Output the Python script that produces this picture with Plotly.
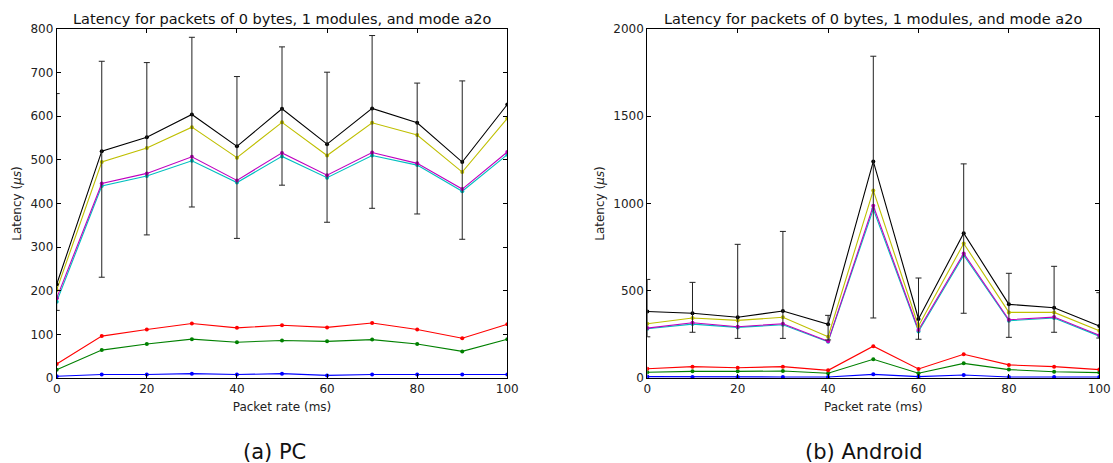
import plotly.graph_objects as go
from plotly.subplots import make_subplots

x_rate = [0, 10, 20, 30, 40, 50, 60, 70, 80, 90, 100]

# (a) PC
pc_black = [215, 520, 552, 604, 531, 617, 536, 618, 585, 495, 627]
pc_yellow = [202, 495, 527, 575, 505, 586, 510, 585, 557, 472, 595]
pc_magenta = [183, 446, 469, 507, 453, 516, 465, 517, 492, 433, 518]
pc_cyan = [175, 440, 463, 498, 448, 508, 459, 510, 488, 428, 512]
pc_red = [32, 96, 111, 125, 115, 121, 116, 126, 111, 91, 123]
pc_green = [19, 64, 78, 89, 82, 86, 84, 88, 78, 61, 89]
pc_blue = [4, 8, 8, 10, 8, 10, 6, 8, 8, 8, 8]
pc_err_x = [0, 10, 20, 30, 40, 50, 60, 70, 80, 90]
pc_err_hi = [652, 726, 723, 781, 691, 759, 701, 785, 676, 681]
pc_err_lo = [155, 231, 328, 392, 320, 442, 357, 389, 376, 318]

# (b) Android
an_black = [381, 371, 348, 384, 308, 1241, 338, 830, 422, 403, 298]
an_yellow = [311, 344, 330, 348, 237, 1075, 298, 771, 376, 376, 271]
an_magenta = [286, 317, 294, 311, 210, 987, 275, 714, 334, 349, 245]
an_cyan = [282, 309, 290, 305, 208, 968, 267, 704, 328, 344, 240]
an_red = [53, 65, 59, 65, 44, 182, 52, 136, 75, 65, 48]
an_green = [33, 38, 38, 40, 27, 107, 27, 84, 48, 36, 31]
an_blue = [8, 6, 6, 6, 6, 21, 8, 17, 6, 6, 6]
an_err_x = [0, 10, 20, 30, 40, 50, 60, 70, 80, 90, 100]
an_err_hi = [565, 548, 766, 840, 359, 1844, 573, 1227, 600, 640, 489]
an_err_lo = [236, 262, 227, 227, 218, 344, 222, 371, 233, 262, 229]

title_text = "Latency for packets of 0 bytes, 1 modules, and mode a2o"
FONT = "DejaVu Sans"

fig = make_subplots(rows=1, cols=2)

def add_panel(col, series, err_x, err_hi, err_lo, black):
    for vals, color in series:
        fig.add_trace(go.Scatter(
            x=x_rate, y=vals, mode="lines+markers",
            line=dict(color=color, width=1.1),
            marker=dict(color=color, size=4, line=dict(width=0)),
            showlegend=False, hoverinfo="skip"), row=1, col=col)
    lookup = dict(zip(x_rate, black))
    ey = [lookup[v] for v in err_x]
    fig.add_trace(go.Scatter(
        x=err_x, y=ey, mode="markers",
        marker=dict(size=1, color="rgba(0,0,0,0)"),
        error_y=dict(type="data", symmetric=False,
                     array=[h - c for h, c in zip(err_hi, ey)],
                     arrayminus=[c - l for l, c in zip(err_lo, ey)],
                     color="#222222", thickness=1, width=3),
        showlegend=False, hoverinfo="skip"), row=1, col=col)

add_panel(1, [(pc_blue, "#0000ff"), (pc_green, "#008000"), (pc_red, "#ff0000"),
              (pc_cyan, "#00bfbf"), (pc_magenta, "#bf00bf"), (pc_yellow, "#bfbf00"),
              (pc_black, "#000000")], pc_err_x, pc_err_hi, pc_err_lo, pc_black)
add_panel(2, [(an_blue, "#0000ff"), (an_green, "#008000"), (an_red, "#ff0000"),
              (an_cyan, "#00bfbf"), (an_magenta, "#bf00bf"), (an_yellow, "#bfbf00"),
              (an_black, "#000000")], an_err_x, an_err_hi, an_err_lo, an_black)

W, H = 1113, 463
y_dom = [1 - 378 / H, 1 - 29 / H]
x_dom1 = [56.7 / W, 507.3 / W]
x_dom2 = [647.3 / W, 1099.3 / W]

axis_common = dict(showline=True, linecolor="black", linewidth=1, mirror="allticks",
                   ticks="inside", ticklen=4, tickcolor="black", showgrid=False,
                   zeroline=False, automargin=False, ticklabeloverflow="allow",
                   tickfont=dict(family=FONT, size=12, color="#222"))

fig.update_xaxes(**axis_common, range=[0, 100], tickvals=[0, 20, 40, 60, 80, 100],
                 title=dict(text="Packet rate (ms)", font=dict(family=FONT, size=12, color="#222"), standoff=7))
fig.update_xaxes(domain=x_dom1, row=1, col=1)
fig.update_xaxes(domain=x_dom2, row=1, col=2)
fig.update_yaxes(**axis_common, domain=y_dom,
                 title=dict(text="Latency (<i>μs</i>)", font=dict(family=FONT, size=12, color="#222"), standoff=6))
fig.update_yaxes(range=[0, 800], tickvals=list(range(0, 801, 100)), row=1, col=1)
fig.update_yaxes(range=[0, 2000], tickvals=[0, 500, 1000, 1500, 2000], row=1, col=2)

for dom in (x_dom1, x_dom2):
    fig.add_annotation(text=title_text, x=(dom[0] + dom[1]) / 2, y=1 - 19 / H,
                       xref="paper", yref="paper", showarrow=False,
                       xanchor="center", yanchor="middle",
                       font=dict(family=FONT, size=14.5, color="#111"))
fig.add_annotation(text="(a) PC", x=274 / W, y=1 - 452 / H, xref="paper", yref="paper",
                   showarrow=False, xanchor="center", yanchor="middle",
                   font=dict(family=FONT, size=21, color="#111"))
fig.add_annotation(text="(b) Android", x=864 / W, y=1 - 452 / H, xref="paper", yref="paper",
                   showarrow=False, xanchor="center", yanchor="middle",
                   font=dict(family=FONT, size=21, color="#111"))

fig.update_layout(template="none", width=W, height=H,
                  margin=dict(l=0, r=0, t=0, b=0, autoexpand=False),
                  paper_bgcolor="white", plot_bgcolor="white",
                  font=dict(family=FONT), showlegend=False)

fig.write_html("out.html")
